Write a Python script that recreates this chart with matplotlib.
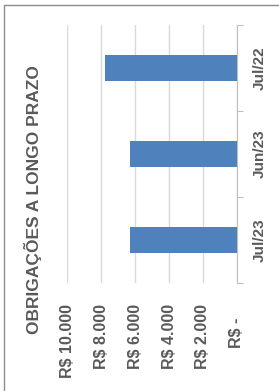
import matplotlib.pyplot as plt
from matplotlib.patches import Rectangle

categories = ['Jul/22', 'Jun/23', 'Jul/23']
values = [7750, 6300, 6300]
ticks = [0, 2000, 4000, 6000, 8000, 10000]
tick_labels = ['R$ -   ', 'R$ 2.000', 'R$ 4.000', 'R$ 6.000', 'R$ 8.000', 'R$ 10.000']
title = 'OBRIGAÇÕES A LONGO PRAZO'

txt = '#595959'
plt.rcParams['font.family'] = ['Liberation Sans', 'DejaVu Sans']

fig = plt.figure(figsize=(2.79, 3.91), dpi=100)
ax = fig.add_axes([67/279, 1 - 283/391, (237 - 67)/279, (283 - 25)/391])

pos = list(range(len(categories)))
ax.barh(pos, values, height=0.31, color='#4F81BD', zorder=3)
ax.set_ylim(-0.5, len(categories) - 0.5)
ax.invert_yaxis()
ax.set_xlim(10000, 0)

ax.set_xticks(ticks)
ax.set_xticklabels(tick_labels, rotation=90, color=txt, fontsize=11.5, fontweight='bold')
ax.tick_params(axis='x', length=0, pad=15)
ax.grid(axis='x', color='#d9d9d9', linewidth=1, zorder=0)

ax.yaxis.tick_right()
ax.set_yticks([p - 0.5 for p in pos] + [len(pos) - 0.5], minor=False)
ax.set_yticklabels([])
ax.set_yticks(pos, minor=True)
ax.set_yticklabels(categories, minor=True, rotation=90, va='center', color=txt,
                   fontsize=11, fontweight='bold')
ax.tick_params(axis='y', which='major', length=4, color='#bfbfbf', direction='out')
ax.tick_params(axis='y', which='minor', length=0, pad=11)

for s in ['top', 'left', 'bottom']:
    ax.spines[s].set_visible(False)
ax.spines['right'].set_color('#bfbfbf')

fig.text(33/279, 1 - 200/391, title, rotation=90, ha='center', va='center',
         color=txt, fontsize=12.5, fontweight='bold')

fig.add_artist(Rectangle((4/279, -0.2), 1.2, 1.2 - 4.5/391,
                         transform=fig.transFigure, fill=False,
                         edgecolor='#8c8c8c', linewidth=1))

fig.savefig('out.png', dpi=100)
